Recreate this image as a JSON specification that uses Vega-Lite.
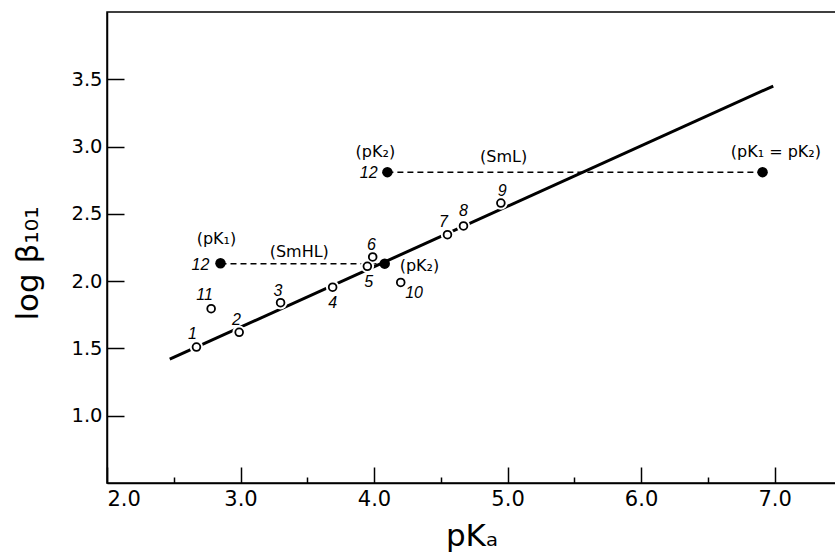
{
  "$schema": "https://vega.github.io/schema/vega-lite/v6.json",
  "autosize": {"type": "none"},
  "padding": {"left": 107, "top": 12, "right": 0, "bottom": 72},
  "width": 729,
  "height": 471,
  "background": "white",
  "config": {
    "view": {"stroke": "black", "strokeWidth": 1.5},
    "axis": {"domainColor": "black", "domainWidth": 1.5, "tickColor": "black", "tickWidth": 1.5, "grid": false,
      "labelFont": "DejaVu Sans", "labelColor": "black",
      "titleFont": "DejaVu Sans", "titleFontWeight": "normal", "titleColor": "black"}
  },
  "datasets": {
    "fit": [{"x": 2.47, "y": 1.42}, {"x": 6.99, "y": 3.45}],
    "dash": [
      {"series": "SmHL", "x": 2.85, "y": 2.13},
      {"series": "SmHL", "x": 4.08, "y": 2.13},
      {"series": "SmL", "x": 4.1, "y": 2.81},
      {"series": "SmL", "x": 6.91, "y": 2.81}
    ],
    "open": [
      {"id": "1", "x": 2.67, "y": 1.51},
      {"id": "2", "x": 2.99, "y": 1.62},
      {"id": "3", "x": 3.3, "y": 1.84},
      {"id": "4", "x": 3.69, "y": 1.955},
      {"id": "5", "x": 3.95, "y": 2.11},
      {"id": "6", "x": 3.99, "y": 2.18},
      {"id": "7", "x": 4.55, "y": 2.345},
      {"id": "8", "x": 4.67, "y": 2.41},
      {"id": "9", "x": 4.95, "y": 2.58},
      {"id": "10", "x": 4.2, "y": 1.99},
      {"id": "11", "x": 2.78, "y": 1.795}
    ],
    "filled": [
      {"id": "12 pK1 SmHL", "x": 2.85, "y": 2.133},
      {"id": "12 pK2 SmHL", "x": 4.08, "y": 2.13},
      {"id": "12 pK2 SmL", "x": 4.1, "y": 2.81},
      {"id": "12 pK1=pK2 SmL", "x": 6.91, "y": 2.81}
    ],
    "nums": [
      {"text": "1", "x": 2.64, "y": 1.61},
      {"text": "2", "x": 2.97, "y": 1.71},
      {"text": "3", "x": 3.28, "y": 1.93},
      {"text": "4", "x": 3.69, "y": 1.84},
      {"text": "5", "x": 3.96, "y": 1.99},
      {"text": "6", "x": 3.98, "y": 2.27},
      {"text": "7", "x": 4.52, "y": 2.44},
      {"text": "8", "x": 4.67, "y": 2.52},
      {"text": "9", "x": 4.96, "y": 2.67},
      {"text": "10", "x": 4.3, "y": 1.91},
      {"text": "11", "x": 2.73, "y": 1.9},
      {"text": "12", "x": 2.7, "y": 2.12},
      {"text": "12", "x": 3.96, "y": 2.8}
    ],
    "notes": [
      {"text": "(pK₁)", "x": 2.82, "y": 2.31},
      {"text": "(SmHL)", "x": 3.44, "y": 2.22},
      {"text": "(pK₂)", "x": 4.34, "y": 2.11},
      {"text": "(pK₂)", "x": 4.01, "y": 2.96},
      {"text": "(SmL)", "x": 4.97, "y": 2.92},
      {"text": "(pK₁ = pK₂)", "x": 7.01, "y": 2.96}
    ]
  },
  "encoding": {
    "y": {"field": "y", "type": "quantitative",
      "scale": {"domain": [0.5, 4.0], "nice": false, "zero": false},
      "axis": {"title": "log β₁₀₁", "titleFontSize": 31, "titlePadding": 26, "titleY": 251,
        "values": [1, 1.5, 2, 2.5, 3, 3.5], "format": ".1f", "labelFontSize": 19.5,
        "tickSize": -17, "labelPadding": 22}}
  },
  "resolve": {"axis": {"x": "independent"}},
  "layer": [
    {
      "data": {"name": "fit"},
      "mark": {"type": "line", "color": "black", "strokeWidth": 3},
      "encoding": {
        "x": {"field": "x", "type": "quantitative",
          "scale": {"domain": [2, 7.46], "nice": false, "zero": false},
          "axis": {"orient": "bottom", "title": null, "labels": false, "domain": false,
            "values": [2.5, 3.5, 4.5, 5.5, 6.5], "tickSize": -6}}
      }
    },
    {
      "encoding": {
        "x": {"field": "x", "type": "quantitative",
          "scale": {"domain": [2, 7.46], "nice": false, "zero": false},
          "axis": {"orient": "bottom", "title": "pKₐ", "titleFontSize": 31, "titlePadding": 12,
            "values": [2, 3, 4, 5, 6, 7], "format": ".1f", "labelFontSize": 21,
            "tickSize": -16, "labelPadding": 21}}
      },
      "layer": [
        {"data": {"name": "dash"}, "mark": {"type": "line", "color": "black", "strokeWidth": 1.5, "strokeDash": [6, 4]},
          "encoding": {"detail": {"field": "series"}}},
        {"data": {"name": "open"}, "mark": {"type": "point", "shape": "circle", "filled": true, "fill": "white", "opacity": 1, "size": 180}},
        {"data": {"name": "open"}, "mark": {"type": "point", "shape": "circle", "filled": false, "stroke": "black", "strokeWidth": 1.8, "fill": "white", "fillOpacity": 1, "opacity": 1, "size": 60}},
        {"data": {"name": "filled"}, "mark": {"type": "point", "shape": "circle", "filled": true, "color": "black", "opacity": 1, "size": 110}},
        {"data": {"name": "nums"}, "mark": {"type": "text", "font": "Liberation Sans", "fontStyle": "italic", "fontSize": 16, "color": "black"},
          "encoding": {"text": {"field": "text"}}},
        {"data": {"name": "notes"}, "mark": {"type": "text", "font": "DejaVu Sans", "fontSize": 16, "color": "black"},
          "encoding": {"text": {"field": "text"}}}
      ]
    }
  ]
}
